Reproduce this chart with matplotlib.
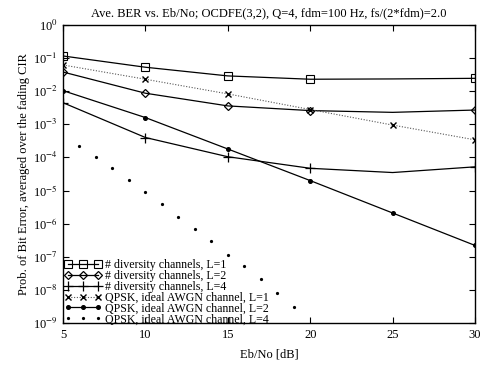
import matplotlib
matplotlib.use('Agg')
import matplotlib.pyplot as plt

plt.rcParams['font.family'] = ['Liberation Serif', 'DejaVu Serif']
plt.rcParams['mathtext.fontset'] = 'stix'

# Eb/No grid of the simulated / analytic curves
ebno = [5, 10, 15, 20, 25, 30]
ber_div_L1 = [0.116, 0.053, 0.029, 0.023, 0.0235, 0.0245]
ber_div_L2 = [0.038, 0.0087, 0.0036, 0.0026, 0.0023, 0.0027]
ber_div_L4 = [0.0045, 4.0e-4, 1.05e-4, 4.7e-5, 3.5e-5, 5.2e-5]
ber_awgn_L1 = [0.062, 0.023, 0.0083, 0.0028, 9.5e-4, 3.4e-4]
ber_awgn_L2 = [0.0104, 1.6e-3, 1.8e-4, 2.0e-5, 2.1e-6, 2.2e-7]

ebno_L4 = [6, 7, 8, 9, 10, 11, 12, 13, 14, 15, 16, 17, 18, 19]
ber_awgn_L4 = [2.2e-4, 1.05e-4, 4.9e-5, 2.1e-5, 9.1e-6, 3.9e-6, 1.6e-6,
               6.9e-7, 3.0e-7, 1.15e-7, 5.2e-8, 2.1e-8, 8.3e-9, 3.1e-9]

labels = ['# diversity channels, L=1', '# diversity channels, L=2',
          '# diversity channels, L=4', 'QPSK, ideal AWGN channel, L=1',
          'QPSK, ideal AWGN channel, L=2', 'QPSK, ideal AWGN channel, L=4']

yticks = [10.0 ** -k for k in range(10)]
ytick_labels = ['10$^{0}$'] + ['10$^{-%d}$' % k for k in range(1, 10)]

fig = plt.figure(figsize=(4.82, 3.67), dpi=100)
ax = fig.add_axes([0.1307, 0.1199, 0.8548, 0.812])

marks = [0, 1, 2, 3, 5]
lw = 0.9
ax.plot(ebno, ber_div_L1, color='black', lw=lw, marker='s', ms=6,
        mfc='none', mew=0.8, markevery=marks, label=labels[0])
ax.plot(ebno, ber_div_L2, color='black', lw=lw, marker='D', ms=4.5,
        mfc='none', mew=0.9, markevery=marks, label=labels[1])
ax.plot(ebno, ber_div_L4, color='black', lw=lw, marker='+', ms=7,
        mew=0.9, markevery=marks, label=labels[2])
ax.plot(ebno, ber_awgn_L1, color='#555555', lw=0.8, ls=(0, (1, 1.5)),
        marker='x', ms=5, mec='black', mew=1.0, label=labels[3])
ax.plot(ebno, ber_awgn_L2, color='black', lw=lw, marker='o', ms=2.6,
        label=labels[4])
ax.plot(ebno_L4, ber_awgn_L4, ls='none', color='black', marker='o',
        ms=1.3, label=labels[5])

ax.set_yscale('log')
ax.set_xlim(5, 30)
ax.set_ylim(1e-9, 1)
ax.set_xticks([5, 10, 15, 20, 25, 30])
ax.set_yticks(yticks)
ax.set_yticklabels(ytick_labels)
ax.minorticks_off()
ax.tick_params(direction='in', top=True, right=True, length=4, width=0.8,
               labelsize=9, pad=4)
for s in ax.spines.values():
    s.set_linewidth(1.0)

ax.set_title('Ave. BER vs. Eb/No; OCDFE(3,2), Q=4, fdm=100 Hz, fs/(2*fdm)=2.0',
             fontsize=9, pad=6)
ax.set_xlabel('Eb/No [dB]', fontsize=9, labelpad=6)
ax.set_ylabel('Prob. of Bit Error, averaged over the fading CIR', fontsize=9,
              labelpad=2)

ax.legend(loc='lower left', bbox_to_anchor=(0.0, -0.012), frameon=False,
          fontsize=8.6, numpoints=3, handlelength=3.1, handletextpad=0.3,
          labelspacing=-0.1, borderpad=0.0, borderaxespad=0.1)

fig.savefig('out.png', dpi=100)
